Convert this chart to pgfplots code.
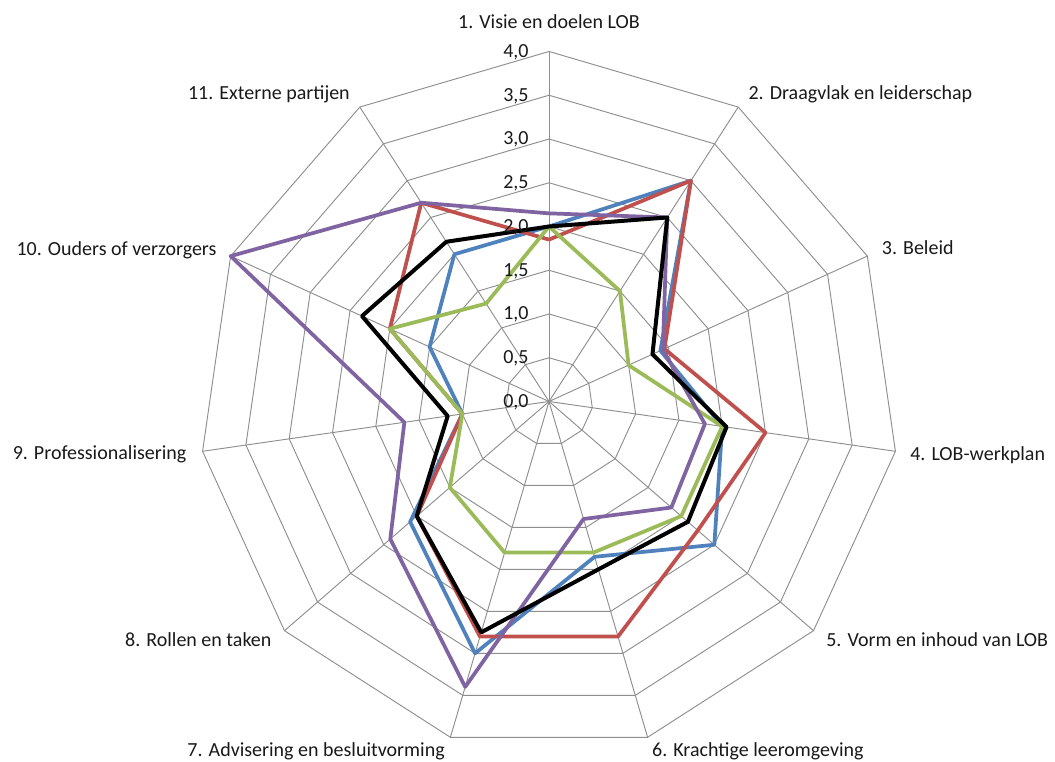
\documentclass[border=0pt]{standalone}
\usepackage{pgfplots}
\pgfplotsset{compat=1.18}
\usepackage{pgfplotstable}
\usepgfplotslibrary{polar}
\usepackage{fontspec}
\setmainfont{Carlito}

\definecolor{sBlue}{HTML}{4F81BD}
\definecolor{sRed}{HTML}{C0504D}
\definecolor{sGreen}{HTML}{9BBB59}
\definecolor{sPurple}{HTML}{8064A2}
\definecolor{gridgray}{HTML}{8E8E8E}

% Scores per theme (angle in degrees, clockwise from the top; last row closes the polygon)
\pgfplotstableread{
angle      blue  red   green  purple  black
90         2.00  1.85  2.00   2.15    2.00
57.2727    3.00  3.00  1.50   2.50    2.50
24.5455    1.40  1.45  1.00   1.43    1.30
-8.1818    2.00  2.50  2.00   1.80    2.05
-40.9091   2.50  2.25  2.00   1.85    2.10
-73.6364   1.85  2.80  1.80   1.40    2.00
-106.3636  3.00  2.80  1.80   3.40    2.75
-139.0909  2.10  2.00  1.50   2.40    2.00
-171.8182  1.00  1.00  1.00   1.67    1.17
-204.5455  1.50  2.00  2.00   4.00    2.35
-237.2727  2.00  2.70  1.33   2.70    2.17
-270       2.00  1.85  2.00   2.15    2.00
}\lobdata

\tikzset{
  lbl/.style={font=\fontsize{15}{18}\selectfont, text=black!90, inner sep=0pt},
}
\pgfplotsset{
  series/.style={line width=2.8pt, line join=round, data cs=polar},
  gridline/.style={gridgray, line width=0.7pt, data cs=polar},
}

\begin{document}
\begin{tikzpicture}
\path[use as bounding box] (0,0) rectangle (791.25pt,571.5pt);
\begin{axis}[
  at={(149.25pt,7.875pt)}, anchor=south west,
  x=65.625pt, y=65.625pt,
  xmin=-4, xmax=4, ymin=-4, ymax=4,
  hide axis, clip=false,
]
% polygonal rings
\pgfplotsinvokeforeach{0.5,1,1.5,2,2.5,3,3.5,4}{
  \addplot[gridline] coordinates {
    (90,#1) (57.2727,#1) (24.5455,#1) (-8.1818,#1) (-40.9091,#1) (-73.6364,#1)
    (-106.3636,#1) (-139.0909,#1) (-171.8182,#1) (-204.5455,#1) (-237.2727,#1) (-270,#1)};
}
% spokes
\pgfplotsinvokeforeach{90,57.2727,24.5455,-8.1818,-40.9091,-73.6364,-106.3636,-139.0909,-171.8182,-204.5455,-237.2727}{
  \addplot[gridline] coordinates {(#1,0) (#1,4)};
}

% series
\addplot[series, sBlue]   table[x=angle, y=blue]   {\lobdata};
\addplot[series, sRed]    table[x=angle, y=red]    {\lobdata};
\addplot[series, sGreen]  table[x=angle, y=green]  {\lobdata};
\addplot[series, sPurple] table[x=angle, y=purple] {\lobdata};
\addplot[series, black, line width=3pt] table[x=angle, y=black] {\lobdata};

% radial tick labels
\node[lbl, anchor=mid east] at (axis cs:-0.23,-0.03) {0,0};
\node[lbl, anchor=mid east] at (axis cs:-0.23,0.47) {0,5};
\node[lbl, anchor=mid east] at (axis cs:-0.23,0.97) {1,0};
\node[lbl, anchor=mid east] at (axis cs:-0.23,1.47) {1,5};
\node[lbl, anchor=mid east] at (axis cs:-0.23,1.97) {2,0};
\node[lbl, anchor=mid east] at (axis cs:-0.23,2.47) {2,5};
\node[lbl, anchor=mid east] at (axis cs:-0.23,2.97) {3,0};
\node[lbl, anchor=mid east] at (axis cs:-0.23,3.47) {3,5};
\node[lbl, anchor=mid east] at (axis cs:-0.23,3.97) {4,0};

% category labels
\node[lbl, anchor=mid]      at (axis cs:0,4.297)        {1. Visie en doelen LOB};
\node[lbl, anchor=mid west] at (axis cs:2.278,3.486)    {2. Draagvlak en leiderschap};
\node[lbl, anchor=mid west] at (axis cs:3.802,1.714)    {3. Beleid};
\node[lbl, anchor=mid west] at (axis cs:4.126,-0.640)   {4. LOB-werkplan};
\node[lbl, anchor=mid west] at (axis cs:3.166,-2.760)   {5. Vorm en inhoud van LOB};
\node[lbl, anchor=mid west] at (axis cs:1.176,-4.023)   {6. Krachtige leeromgeving};
\node[lbl, anchor=mid east] at (axis cs:-1.189,-4.023)  {7. Advisering en besluitvorming};
\node[lbl, anchor=mid east] at (axis cs:-3.169,-2.760)  {8. Rollen en taken};
\node[lbl, anchor=mid east] at (axis cs:-4.141,-0.629)  {9. Professionalisering};
\node[lbl, anchor=mid east] at (axis cs:-3.798,1.709)   {10. Ouders of verzorgers};
\node[lbl, anchor=mid east] at (axis cs:-2.274,3.486)   {11. Externe partijen};
\end{axis}
\end{tikzpicture}
\end{document}
